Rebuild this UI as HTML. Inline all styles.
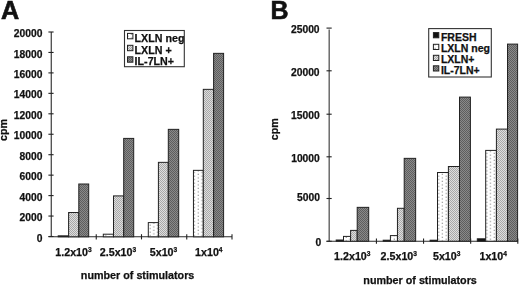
<!DOCTYPE html>
<html><head><meta charset="utf-8"><style>
html,body{margin:0;padding:0;background:#fff;width:520px;height:285px;overflow:hidden}
svg{display:block;filter:blur(0.3px)}
text{font-family:"Liberation Sans", sans-serif;font-weight:bold;fill:#111;stroke:#111;stroke-width:0.25px}
</style></head><body>
<svg width="520" height="285" viewBox="0 0 520 285">

<defs>
<pattern id="pNeg" width="7.4" height="3.5" patternUnits="userSpaceOnUse">
  <rect width="7.4" height="3.5" fill="#fff"/>
  <rect x="1.6" y="0.6" width="1" height="1" fill="#6a6a6a"/>
  <rect x="5.3" y="2.35" width="1" height="1" fill="#6a6a6a"/>
</pattern>
<pattern id="pPlus" width="2" height="2" patternUnits="userSpaceOnUse">
  <rect width="2" height="2" fill="#dedede"/>
  <rect x="0" y="0" width="1" height="1" fill="#a8a8a8"/>
  <rect x="1" y="1" width="1" height="1" fill="#a8a8a8"/>
</pattern>
<pattern id="pIl7" width="2" height="2" patternUnits="userSpaceOnUse">
  <rect width="2" height="2" fill="#8a8a8a"/>
  <rect x="0" y="0" width="1" height="1" fill="#5e5e5e"/>
  <rect x="1" y="1" width="1" height="1" fill="#5e5e5e"/>
</pattern>
</defs>

<text x="1" y="18.8" font-size="25.2" text-anchor="start" style="stroke-width:0.6px">A</text>
<line x1="51.25" y1="32" x2="51.25" y2="236.8" stroke="#2a2a2a" stroke-width="1.1"/>
<line x1="48.4" y1="32" x2="53.6" y2="32" stroke="#222" stroke-width="1.1"/>
<text x="42.5" y="37.1" font-size="10.3" text-anchor="end" >20000</text>
<line x1="48.4" y1="52.45" x2="53.6" y2="52.45" stroke="#222" stroke-width="1.1"/>
<text x="42.5" y="57.55" font-size="10.3" text-anchor="end" >18000</text>
<line x1="48.4" y1="72.9" x2="53.6" y2="72.9" stroke="#222" stroke-width="1.1"/>
<text x="42.5" y="78" font-size="10.3" text-anchor="end" >16000</text>
<line x1="48.4" y1="93.35" x2="53.6" y2="93.35" stroke="#222" stroke-width="1.1"/>
<text x="42.5" y="98.45" font-size="10.3" text-anchor="end" >14000</text>
<line x1="48.4" y1="113.8" x2="53.6" y2="113.8" stroke="#222" stroke-width="1.1"/>
<text x="42.5" y="118.9" font-size="10.3" text-anchor="end" >12000</text>
<line x1="48.4" y1="134.25" x2="53.6" y2="134.25" stroke="#222" stroke-width="1.1"/>
<text x="42.5" y="139.35" font-size="10.3" text-anchor="end" >10000</text>
<line x1="48.4" y1="154.7" x2="53.6" y2="154.7" stroke="#222" stroke-width="1.1"/>
<text x="42.5" y="159.8" font-size="10.3" text-anchor="end" >8000</text>
<line x1="48.4" y1="175.15" x2="53.6" y2="175.15" stroke="#222" stroke-width="1.1"/>
<text x="42.5" y="180.25" font-size="10.3" text-anchor="end" >6000</text>
<line x1="48.4" y1="195.6" x2="53.6" y2="195.6" stroke="#222" stroke-width="1.1"/>
<text x="42.5" y="200.7" font-size="10.3" text-anchor="end" >4000</text>
<line x1="48.4" y1="216.05" x2="53.6" y2="216.05" stroke="#222" stroke-width="1.1"/>
<text x="42.5" y="221.15" font-size="10.3" text-anchor="end" >2000</text>
<line x1="48.4" y1="236.5" x2="53.6" y2="236.5" stroke="#222" stroke-width="1.1"/>
<text x="42.5" y="242.3" font-size="10.3" text-anchor="end" >0</text>
<line x1="48.4" y1="236.8" x2="232" y2="236.8" stroke="#2a2a2a" stroke-width="1.1"/>
<line x1="96.25" y1="234.20000000000002" x2="96.25" y2="239.4" stroke="#222" stroke-width="1.1"/>
<line x1="141.5" y1="234.20000000000002" x2="141.5" y2="239.4" stroke="#222" stroke-width="1.1"/>
<line x1="186.75" y1="234.20000000000002" x2="186.75" y2="239.4" stroke="#222" stroke-width="1.1"/>
<line x1="232" y1="234.20000000000002" x2="232" y2="239.4" stroke="#222" stroke-width="1.1"/>
<rect x="58.2" y="235.8" width="10.4" height="1" fill="url(#pNeg)" stroke="#222" stroke-width="1"/>
<rect x="68.6" y="212.5" width="10.2" height="24.3" fill="url(#pPlus)" stroke="#222" stroke-width="1"/>
<rect x="78.8" y="184" width="9.9" height="52.8" fill="url(#pIl7)" stroke="#222" stroke-width="1"/>
<rect x="103.3" y="234.2" width="10.2" height="2.6" fill="url(#pNeg)" stroke="#222" stroke-width="1"/>
<rect x="113.5" y="195.9" width="10.2" height="40.9" fill="url(#pPlus)" stroke="#222" stroke-width="1"/>
<rect x="123.7" y="138.4" width="10" height="98.4" fill="url(#pIl7)" stroke="#222" stroke-width="1"/>
<rect x="148.3" y="222.6" width="10.1" height="14.2" fill="url(#pNeg)" stroke="#222" stroke-width="1"/>
<rect x="158.4" y="162.35" width="9.9" height="74.45" fill="url(#pPlus)" stroke="#222" stroke-width="1"/>
<rect x="168.3" y="129.35" width="10.4" height="107.45" fill="url(#pIl7)" stroke="#222" stroke-width="1"/>
<rect x="193.45" y="170.35" width="9.85" height="66.45" fill="url(#pNeg)" stroke="#222" stroke-width="1"/>
<rect x="203.3" y="89.35" width="10.3" height="147.45" fill="url(#pPlus)" stroke="#222" stroke-width="1"/>
<rect x="213.6" y="53.35" width="10" height="183.45" fill="url(#pIl7)" stroke="#222" stroke-width="1"/>
<text x="73.5" y="256" font-size="10.7" text-anchor="middle">1.2x10<tspan font-size="6.63" dy="-4">3</tspan></text>
<text x="118" y="256" font-size="10.7" text-anchor="middle">2.5x10<tspan font-size="6.63" dy="-4">3</tspan></text>
<text x="163.5" y="256" font-size="10.7" text-anchor="middle">5x10<tspan font-size="6.63" dy="-4">3</tspan></text>
<text x="208.8" y="256" font-size="10.7" text-anchor="middle">1x10<tspan font-size="6.63" dy="-4">4</tspan></text>
<text x="137.6" y="279.3" font-size="10.75" text-anchor="middle" >number of stimulators</text>
<text transform="translate(7,141) rotate(-90)" font-size="10.7">cpm</text>
<rect x="124.5" y="30.5" width="59.8" height="36.2" fill="#fff" stroke="#333" stroke-width="1.1"/>
<rect x="127.5" y="33.4" width="5.4" height="5.4" fill="url(#pNeg)" stroke="#222" stroke-width="1"/>
<text x="134.6" y="41.9" font-size="10.7" text-anchor="start" >LXLN neg</text>
<rect x="127.5" y="45.3" width="5.4" height="5.4" fill="url(#pPlus)" stroke="#222" stroke-width="1"/>
<text x="134.6" y="53.8" font-size="10.7" text-anchor="start" >LXLN +</text>
<rect x="127.5" y="56.8" width="5.4" height="5.4" fill="url(#pIl7)" stroke="#222" stroke-width="1"/>
<text x="134.6" y="65.4" font-size="10.7" text-anchor="start" >IL-7LN+</text>
<text x="270.5" y="19.1" font-size="25.0" text-anchor="start" style="stroke-width:0.6px">B</text>
<line x1="329.2" y1="29.4" x2="329.2" y2="241.2" stroke="#606060" stroke-width="1.4"/>
<line x1="326.5" y1="28.1" x2="331.7" y2="28.1" stroke="#222" stroke-width="1.1"/>
<text x="319.6" y="32.7" font-size="10.3" text-anchor="end" >25000</text>
<line x1="326.5" y1="70.8" x2="331.7" y2="70.8" stroke="#222" stroke-width="1.1"/>
<text x="319.6" y="75.5" font-size="10.3" text-anchor="end" >20000</text>
<line x1="326.5" y1="114.2" x2="331.7" y2="114.2" stroke="#222" stroke-width="1.1"/>
<text x="319.7" y="118.8" font-size="10.3" text-anchor="end" >15000</text>
<line x1="326.5" y1="156.8" x2="331.7" y2="156.8" stroke="#222" stroke-width="1.1"/>
<text x="319.8" y="161.5" font-size="10.3" text-anchor="end" >10000</text>
<line x1="326.5" y1="198.5" x2="331.7" y2="198.5" stroke="#222" stroke-width="1.1"/>
<text x="320" y="201.3" font-size="10.3" text-anchor="end" >5000</text>
<line x1="326.5" y1="241.3" x2="331.7" y2="241.3" stroke="#222" stroke-width="1.1"/>
<text x="321.3" y="246" font-size="10.3" text-anchor="end" >0</text>
<line x1="326.5" y1="241.2" x2="517.8" y2="241.2" stroke="#2a2a2a" stroke-width="1.1"/>
<line x1="376.43" y1="238.6" x2="376.43" y2="243.8" stroke="#222" stroke-width="1.1"/>
<line x1="423.55" y1="238.6" x2="423.55" y2="243.8" stroke="#222" stroke-width="1.1"/>
<line x1="470.67" y1="238.6" x2="470.67" y2="243.8" stroke="#222" stroke-width="1.1"/>
<line x1="517.8" y1="238.6" x2="517.8" y2="243.8" stroke="#222" stroke-width="1.1"/>
<rect x="336.2" y="240" width="7.3" height="1.2" fill="#111" stroke="#222" stroke-width="1"/>
<rect x="343.5" y="236.4" width="7.1" height="4.8" fill="url(#pNeg)" stroke="#222" stroke-width="1"/>
<rect x="350.6" y="230.4" width="6.6" height="10.8" fill="url(#pPlus)" stroke="#222" stroke-width="1"/>
<rect x="357.2" y="207.35" width="11.5" height="33.85" fill="url(#pIl7)" stroke="#222" stroke-width="1"/>
<rect x="383.2" y="240.2" width="7.2" height="1" fill="#111" stroke="#222" stroke-width="1"/>
<rect x="390.4" y="235.6" width="7.05" height="5.6" fill="url(#pNeg)" stroke="#222" stroke-width="1"/>
<rect x="397.45" y="208.3" width="6.75" height="32.9" fill="url(#pPlus)" stroke="#222" stroke-width="1"/>
<rect x="404.2" y="158.35" width="11.45" height="82.85" fill="url(#pIl7)" stroke="#222" stroke-width="1"/>
<rect x="430.1" y="240.2" width="7.4" height="1" fill="#111" stroke="#222" stroke-width="1"/>
<rect x="437.5" y="172.5" width="10.9" height="68.7" fill="url(#pNeg)" stroke="#222" stroke-width="1"/>
<rect x="448.4" y="166.5" width="11.1" height="74.7" fill="url(#pPlus)" stroke="#222" stroke-width="1"/>
<rect x="459.5" y="97.1" width="10.9" height="144.1" fill="url(#pIl7)" stroke="#222" stroke-width="1"/>
<rect x="477.3" y="238.8" width="8.4" height="2.4" fill="#111" stroke="#222" stroke-width="1"/>
<rect x="485.7" y="150.4" width="10.7" height="90.8" fill="url(#pNeg)" stroke="#222" stroke-width="1"/>
<rect x="496.4" y="129.1" width="11.1" height="112.1" fill="url(#pPlus)" stroke="#222" stroke-width="1"/>
<rect x="507.5" y="44.1" width="10.1" height="197.1" fill="url(#pIl7)" stroke="#222" stroke-width="1"/>
<text x="352.3" y="259.5" font-size="10.7" text-anchor="middle">1.2x10<tspan font-size="6.63" dy="-4">3</tspan></text>
<text x="398.8" y="259.5" font-size="10.7" text-anchor="middle">2.5x10<tspan font-size="6.63" dy="-4">3</tspan></text>
<text x="446.7" y="259.5" font-size="10.7" text-anchor="middle">5x10<tspan font-size="6.63" dy="-4">3</tspan></text>
<text x="493.2" y="259.5" font-size="10.7" text-anchor="middle">1x10<tspan font-size="6.63" dy="-4">4</tspan></text>
<text x="420.1" y="284" font-size="10.75" text-anchor="middle" >number of stimulators</text>
<text transform="translate(277.8,140.2) rotate(-90)" font-size="10.7">cpm</text>
<rect x="428.7" y="28.6" width="62.6" height="48.4" fill="#fff" stroke="#333" stroke-width="1.1"/>
<rect x="433.4" y="32.6" width="5.4" height="5.2" fill="#111" stroke="#222" stroke-width="1"/>
<text x="440.9" y="41" font-size="10.5" text-anchor="start" >FRESH</text>
<rect x="433.4" y="44.3" width="5.4" height="5.2" fill="url(#pNeg)" stroke="#222" stroke-width="1"/>
<text x="440.9" y="52.2" font-size="10.5" text-anchor="start" >LXLN neg</text>
<rect x="433.4" y="55.3" width="5.4" height="5.2" fill="url(#pPlus)" stroke="#222" stroke-width="1"/>
<text x="440.9" y="63" font-size="10.5" text-anchor="start" >LXLN+</text>
<rect x="433.4" y="65.8" width="5.4" height="5.2" fill="url(#pIl7)" stroke="#222" stroke-width="1"/>
<text x="440.9" y="73.6" font-size="10.5" text-anchor="start" >IL-7LN+</text>
</svg>
</body></html>
